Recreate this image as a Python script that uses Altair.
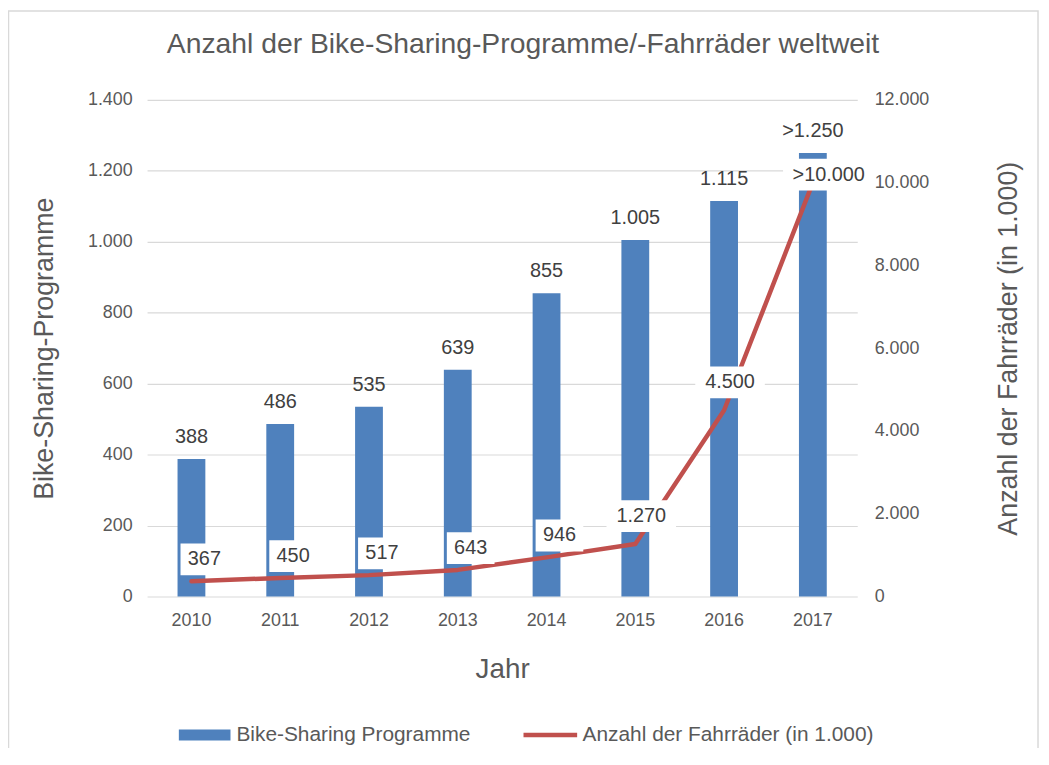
import altair as alt
import pandas as pd

# ---- data ----
years = ["2010", "2011", "2012", "2013", "2014", "2015", "2016", "2017"]
programmes = [388, 486, 535, 639, 855, 1005, 1115, 1250]
bikes = [367, 450, 517, 643, 946, 1270, 4500, 10000]
prog_prefix = ["", "", "", "", "", "", "", ">"]
bike_prefix = ["", "", "", "", "", "", "", ">"]
series_bar = "Bike-Sharing Programme"
series_line = "Anzahl der Fahrräder (in 1.000)"
left_ticks = [0, 200, 400, 600, 800, 1000, 1200, 1400]
right_ticks = [0, 2000, 4000, 6000, 8000, 10000, 12000]


def de(n):
    return f"{n:,}".replace(",", ".")


prog_labels = [p + de(v) for p, v in zip(prog_prefix, programmes)]
bike_labels = [p + de(v) for p, v in zip(bike_prefix, bikes)]

df = pd.DataFrame({
    "year": years,
    "programmes": programmes,
    "bikes": bikes,
    "prog_label": prog_labels,
    "bike_label": bike_labels,
    "len": [len(s) for s in bike_labels],
    "s_bar": series_bar,
    "s_line": series_line,
})

FONT = "Liberation Sans"
GREY = "#595959"
DARK = "#404040"
BLUE = "#4F81BD"
RED = "#C0504D"
GRID = "#D9D9D9"
DE_FMT = "replace(format(datum.value, ','), ',', '.')"

base = alt.Chart(df)

x_enc = alt.X(
    "year:O",
    scale=alt.Scale(paddingInner=0, paddingOuter=0),
    axis=alt.Axis(
        title="Jahr", labelAngle=0, ticks=False, domain=False,
        labelFontSize=18, labelColor=GREY, labelPadding=15, labelFont=FONT,
        titleFontSize=28, titleColor=GREY, titleFontWeight="normal",
        titlePadding=27, titleFont=FONT,
    ),
)

y_left = alt.Y(
    "programmes:Q",
    scale=alt.Scale(domain=[0, 1400], nice=False),
    axis=alt.Axis(
        orient="left", values=left_ticks, labelExpr=DE_FMT,
        domain=False, ticks=False, grid=True, gridColor=GRID, gridWidth=1.2,
        labelFontSize=18, labelColor=GREY, labelPadding=15, labelFont=FONT,
        title="Bike-Sharing-Programme", titleFontSize=27, titleColor=GREY,
        titleFontWeight="normal", titlePadding=29, titleFont=FONT,
    ),
)

y_right = alt.Y(
    "bikes:Q",
    scale=alt.Scale(domain=[0, 12000], nice=False),
    axis=alt.Axis(
        orient="right", values=right_ticks, labelExpr=DE_FMT,
        domain=False, ticks=False, grid=False,
        labelFontSize=18, labelColor=GREY, labelPadding=17, labelFont=FONT,
        title="Anzahl der Fahrräder (in 1.000)", titleFontSize=27,
        titleColor=GREY, titleFontWeight="normal", titleAngle=270,
        titleBaseline="top", titlePadding=67, titleFont=FONT,
    ),
)

# ---- left group: bars + labels ----
bars = base.mark_bar(size=28).encode(
    x=x_enc,
    y=y_left,
    fill=alt.Fill(
        "s_bar:N",
        scale=alt.Scale(domain=[series_bar], range=[BLUE]),
        legend=alt.Legend(
            title=None, orient="none", legendX=32, legendY=613.5, padding=0,
            symbolType="M-1,-0.2115L1,-0.2115L1,0.2115L-1,0.2115Z",
            symbolSize=2704, symbolStrokeWidth=0, symbolOpacity=1,
            labelFontSize=21, labelColor=GREY, labelFont=FONT,
            labelOffset=6, labelLimit=400,
        ),
    ),
)

bar_text = base.mark_text(dy=-22, fontSize=20, color=DARK, font=FONT).encode(
    x=x_enc,
    y=y_left,
    text="prog_label:N",
)

border = alt.Chart(pd.DataFrame({"a": [0]})).mark_rect(
    fill="white", fillOpacity=0, stroke=GRID, strokeWidth=1.5
).encode(
    x=alt.value(-139.5), x2=alt.value(897),
    y=alt.value(-89.5), y2=alt.value(700),
)

left = alt.layer(border, bars, bar_text)

# ---- right group: line + boxed labels ----
line = base.mark_line(strokeWidth=4.5, strokeCap="round", strokeJoin="round").encode(
    x=x_enc,
    y=y_right,
    stroke=alt.Stroke(
        "s_line:N",
        scale=alt.Scale(domain=[series_line], range=[RED]),
        legend=alt.Legend(
            title=None, orient="none", legendX=376.5, legendY=610, padding=0,
            symbolType="stroke", symbolSize=2916, symbolStrokeWidth=4.5,
            labelFontSize=21, labelColor=GREY, labelFont=FONT,
            labelOffset=3, labelLimit=400,
        ),
    ),
)

box_shapes = alt.Scale(
    domain=[3, 5, 7],
    range=[
        "M-0.5333,-0.3556L0.5333,-0.3556L0.5333,0.3556L-0.5333,0.3556Z",
        "M-0.7778,-0.3556L0.7778,-0.3556L0.7778,0.3556L-0.7778,0.3556Z",
        "M-1.0222,-0.3556L1.0222,-0.3556L1.0222,0.3556L-1.0222,0.3556Z",
    ],
)


def boxed_labels(sel_years, dx, dy):
    sub = base.transform_filter(alt.FieldOneOfPredicate(field="year", oneOf=sel_years))
    box = sub.mark_point(
        filled=True, color="white", opacity=1, strokeWidth=0, size=8100,
        xOffset=dx, yOffset=dy,
    ).encode(
        x=x_enc,
        y=y_right,
        shape=alt.Shape("len:N", scale=box_shapes, legend=None),
    )
    txt = sub.mark_text(
        fontSize=20, color=DARK, font=FONT, xOffset=dx, yOffset=dy
    ).encode(
        x=x_enc,
        y=y_right,
        text="bike_label:N",
    )
    return [box, txt]


right = alt.layer(
    line,
    *boxed_labels(["2010", "2011", "2012", "2013", "2014"], 13, -22),
    *boxed_labels(["2015", "2016"], 6, -28),
    *boxed_labels(["2017"], 16, -8),
)

chart = (
    alt.layer(left, right)
    .resolve_scale(y="independent")
    .properties(
        width=715,
        height=500,
        title=alt.TitleParams(
            text="Anzahl der Bike-Sharing-Programme/-Fahrräder weltweit",
            fontSize=28.5, color=GREY, fontWeight="normal", font=FONT,
            anchor="middle", dx=21, offset=-49,
        ),
        autosize=alt.AutoSizeParams(type="none"),
        padding={"left": 140, "top": 90, "right": 185, "bottom": 150},
    )
    .configure(font=FONT)
    .configure_view(stroke=None)
)

chart.save("out.html", embed_options={"renderer": "svg", "actions": False})
